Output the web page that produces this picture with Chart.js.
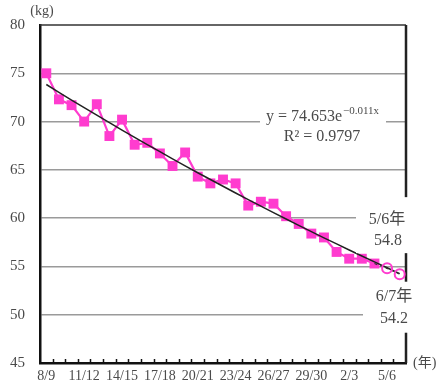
<!DOCTYPE html>
<html>
<head>
<meta charset="utf-8">
<script src="https://cdn.jsdelivr.net/npm/chart.js@4.4.1/dist/chart.umd.min.js"></script>
<style>
  body { margin: 0; background: #fff; }
  canvas { display: block; }
</style>
</head>
<body>
<canvas id="chart" width="437" height="387"></canvas>
<script>
// Fiscal years (Heisei / Reiwa pairs)
const categories = ['8/9', '9/10', '10/11', '11/12', '12/13', '13/14', '14/15', '15/16', '16/17', '17/18',
  '18/19', '19/20', '20/21', '21/22', '22/23', '23/24', '24/25', '25/26', '26/27', '27/28',
  '28/29', '29/30', '30/元', '元/2', '2/3', '3/4', '4/5', '5/6', '6/7'];

// Measured values (kg)
const actualValues = [75.0, 72.3, 71.7, 70.0, 71.8, 68.5, 70.2, 67.6, 67.8, 66.7,
  65.4, 66.8, 64.3, 63.6, 64.0, 63.6, 61.3, 61.7, 61.5, 60.2,
  59.4, 58.4, 58.0, 56.5, 55.8, 55.8, 55.3, null, null];

// Projected values for 5/6 and 6/7 (joined to the last measured one)
const forecastValues = [null, null, null, null, null, null, null, null, null, null,
  null, null, null, null, null, null, null, null, null, null,
  null, null, null, null, null, null, 55.3, 54.8, 54.2];

// Trend line points, y = 74.653e^(-0.011x), x = 1..29
const trendValues = [73.84, 73.03, 72.23, 71.44, 70.66, 69.88, 69.12, 68.36, 67.62, 66.88,
  66.14, 65.42, 64.70, 64.00, 63.30, 62.60, 61.92, 61.24, 60.57, 59.91,
  59.25, 58.60, 57.96, 57.33, 56.70, 56.08, 55.47, 54.86, 54.26];

const yTicks = [45, 50, 55, 60, 65, 70, 75, 80];

const MAGENTA = '#ff3ccf';
const TEXT = '#4a4a4a';
const SERIF = '"Liberation Serif", "DejaVu Serif", "Noto Sans CJK JP", serif';

// Frame, inner tick marks and text boxes
const framePlugin = {
  id: 'frame',
  beforeDatasetsDraw: (chart) => {
    const ctx = chart.ctx;
    const a = chart.chartArea;
    const xScale = chart.scales.x;
    ctx.save();
    // top and right border
    ctx.strokeStyle = '#333';
    ctx.lineWidth = 1.5;
    ctx.beginPath();
    ctx.moveTo(a.left, a.top);
    ctx.lineTo(a.right, a.top);
    ctx.stroke();
    ctx.lineWidth = 2.5;
    ctx.strokeStyle = '#222';
    ctx.beginPath();
    ctx.moveTo(a.right, a.top);
    ctx.lineTo(a.right, a.bottom);
    ctx.stroke();
    // small ticks between categories, pointing up
    const step = xScale.getPixelForValue(1) - xScale.getPixelForValue(0);
    ctx.strokeStyle = '#111';
    ctx.lineWidth = 1.5;
    for (let i = 1; i < categories.length; i++) {
      const x = Math.round(xScale.getPixelForValue(i) - step / 2) + 0.5;
      ctx.beginPath();
      ctx.moveTo(x, a.bottom);
      ctx.lineTo(x, a.bottom - 4);
      ctx.stroke();
    }
    ctx.restore();
  },
  afterDraw: (chart) => {
    const ctx = chart.ctx;
    const a = chart.chartArea;
    const yScale = chart.scales.y;
    ctx.save();
    ctx.fillStyle = '#fff';
    // white boxes that break grid lines / border
    ctx.fillRect(a.right - 146, yScale.getPixelForValue(70) - 12, 126, 34);
    ctx.fillRect(a.right - 50, yScale.getPixelForValue(60) - 21, 66, 56);
    ctx.fillRect(a.right - 43, yScale.getPixelForValue(50) - 33, 60, 51);

    ctx.fillStyle = TEXT;
    ctx.textAlign = 'center';
    ctx.textBaseline = 'middle';

    // equation
    const eqY = yScale.getPixelForValue(70) - 5;
    const mainTxt = 'y = 74.653e';
    const supTxt = '\u22120.011x';
    ctx.font = '11px ' + SERIF;
    const supW = ctx.measureText(supTxt).width;
    ctx.font = '16px ' + SERIF;
    const mainW = ctx.measureText(mainTxt).width;
    const startX = a.right - 84 - (mainW + supW) / 2;
    ctx.textAlign = 'left';
    ctx.fillText(mainTxt, startX, eqY);
    ctx.font = '11px ' + SERIF;
    ctx.fillText(supTxt, startX + mainW + 1, eqY - 5);
    ctx.textAlign = 'center';
    ctx.font = '16px ' + SERIF;
    ctx.fillText('R\u00b2 = 0.9797', a.right - 84, eqY + 20);

    // projected values
    ctx.fillText('5/6年', a.right - 19, 220);
    ctx.fillText('54.8', a.right - 18, 241);
    ctx.fillText('6/7年', a.right - 12, 297);
    ctx.fillText('54.2', a.right - 12, 319);

    // axis units
    ctx.font = '14px ' + SERIF;
    ctx.fillText('(kg)', 42, 11);
    ctx.textAlign = 'left';
    ctx.fillText('(年)', a.right + 7, a.bottom);
    ctx.restore();
  }
};

Chart.register(framePlugin);

new Chart(document.getElementById('chart'), {
  type: 'line',
  data: {
    labels: categories,
    datasets: [
      {
        label: 'trend',
        data: trendValues,
        borderColor: '#222',
        borderWidth: 1.5,
        pointRadius: 0,
        order: 1
      },
      {
        label: 'forecast',
        data: forecastValues,
        borderColor: '#333',
        borderWidth: 1.2,
        borderDash: [3, 3],
        pointStyle: 'circle',
        pointRadius: forecastValues.map((v, i) => (i >= 27 ? 5 : 0)),
        pointBorderColor: MAGENTA,
        pointBorderWidth: 2,
        pointBackgroundColor: 'rgba(0,0,0,0)',
        order: 0
      },
      {
        label: 'actual',
        data: actualValues,
        borderColor: MAGENTA,
        borderWidth: 2.2,
        pointStyle: 'rect',
        pointRadius: 7,
        pointBackgroundColor: MAGENTA,
        pointBorderWidth: 0,
        order: 2
      }
    ]
  },
  options: {
    responsive: false,
    animation: false,
    layout: { padding: { top: 25, right: 31, left: 0, bottom: 0 } },
    plugins: {
      legend: { display: false },
      tooltip: { enabled: false }
    },
    scales: {
      x: {
        offset: true,
        grid: { display: false, drawTicks: false },
        border: { display: true, color: '#111', width: 2.5 },
        ticks: {
          autoSkip: false,
          maxRotation: 0,
          padding: 5,
          color: TEXT,
          font: { family: SERIF, size: 14 },
          callback: (val, i) => (i % 3 === 0 && i < 28 ? categories[i] : '')
        },
        afterFit: (scale) => { scale.height = 24; }
      },
      y: {
        min: 45,
        max: 80,
        afterBuildTicks: (scale) => { scale.ticks = yTicks.map(v => ({ value: v })); },
        grid: {
          drawTicks: false,
          lineWidth: 1.5,
          color: (c) => (c.tick && (c.tick.value === 45 || c.tick.value === 80) ? 'rgba(0,0,0,0)' : '#9a9a9a')
        },
        border: { display: true, color: '#111', width: 2.5 },
        ticks: {
          padding: 15,
          color: TEXT,
          font: { family: SERIF, size: 15 }
        },
        afterFit: (scale) => { scale.width = 40; }
      }
    }
  }
});
</script>
</body>
</html>
